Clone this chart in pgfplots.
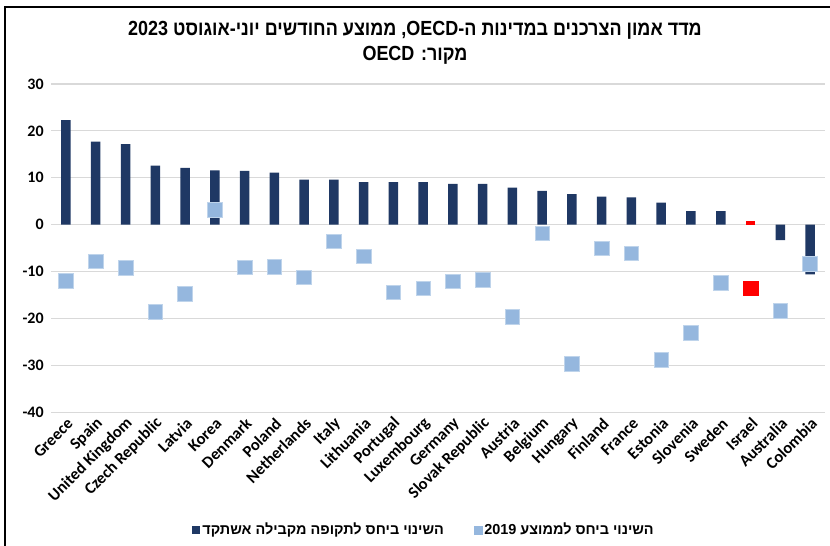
\documentclass[border=0pt]{standalone}
\usepackage{fontspec}
\usepackage{pgfplots}
\usepackage{pgfplotstable}
\pgfplotsset{compat=1.18}
\setmainfont{Carlito}
\TeXXeTstate=1
\newfontfamily\hebtitle{Liberation Sans}[Script=Hebrew,UprightFont={* Bold},FakeStretch=0.88]
\newfontfamily\hebfont{Liberation Sans}[Script=Hebrew,UprightFont={* Bold}]
\definecolor{navy}{HTML}{1F3864}
\definecolor{lblue}{HTML}{95B7DE}
\definecolor{gridc}{HTML}{D9D9D9}

\pgfplotstableread{
x y
0 22.3
1 17.7
2 17.2
3 12.6
4 12.1
5 11.6
6 11.5
7 11.1
8 9.6
9 9.6
10 9.1
11 9.1
12 9.1
13 8.7
14 8.7
15 7.9
16 7.2
17 6.5
18 6.0
19 5.8
20 4.7
21 2.9
22 2.9
24 -3.3
25 -10.6
}\yoy

\pgfplotstableread{
x y
0 -12.0
1 -7.8
2 -9.2
3 -18.6
4 -14.7
5 3.2
6 -9.1
7 -9.0
8 -11.2
9 -3.5
10 -6.7
11 -14.4
12 -13.6
13 -12.1
14 -11.8
15 -19.6
16 -1.8
17 -29.6
18 -5.0
19 -6.1
20 -28.8
21 -23.0
22 -12.4
24 -18.4
25 -8.3
}\vsnineteen

\pgfplotstableread{
x y
23 0.8
}\israelyoy

\pgfplotstableread{
x y
23 -13.5
}\israelnineteen

\begin{document}
\begin{tikzpicture}[x=1bp,y=1bp]
\path[use as bounding box] (0,0) rectangle (830,546);
\draw[line width=2bp] (5,0) -- (5,539) -- (830,539);
\node[font=\hebtitle\fontsize{20.5}{23}\selectfont] at (415,516)
  {\beginR מדד אמון הצרכנים במדינות ה-\beginL OECD\endL, ממוצע החודשים יוני-אוגוסט \beginL 2023\endL\endR};
\node[font=\hebtitle\fontsize{20.5}{23}\selectfont] at (415,491)
  {\beginR מקור: \beginL OECD\endL\endR};
\begin{axis}[
  at={(51.1bp,133.7bp)}, anchor=south west,
  scale only axis, width=773.8bp, height=328.3bp,
  xmin=-0.5, xmax=25.5, ymin=-40, ymax=30,
  ytick={-40,-30,...,30},
  xtick={0,...,25},
  xticklabels={Greece,Spain,United Kingdom,Czech Republic,Latvia,Korea,Denmark,Poland,Netherlands,Italy,Lithuania,Portugal,Luxembourg,Germany,Slovak Republic,Austria,Belgium,Hungary,Finland,France,Estonia,Slovenia,Sweden,Israel,Australia,Colombia},
  axis line style={draw=none},
  major tick length=0pt,
  ymajorgrids, grid style={gridc, line width=1.2bp},
  /pgf/number format/assume math mode=true,
  yticklabel style={font=\bfseries\fontsize{16}{18}\selectfont, anchor=east, xshift=-4bp},
  xticklabel style={font=\bfseries\fontsize{16.5}{18}\selectfont, rotate=45, anchor=east, inner sep=1bp, xshift=-2bp, yshift=-9bp},
  legend style={at={(axis description cs:0.482,-0.358)}, anchor=center, draw=none,
    font=\hebfont\fontsize{14.5}{16}\selectfont, legend columns=2,
    /tikz/every even column/.append style={column sep=28bp}},
  legend cell align=left,
]
\addplot[ybar, bar width=9.5bp, fill=navy, draw=none,
  legend image code/.code={\fill[navy] (0bp,-4bp) rectangle (8bp,4bp);}] table[x=x,y=y] {\yoy};
\addlegendentry{\beginR השינוי ביחס לתקופה מקבילה אשתקד\endR}
\addplot[ybar, bar width=9.5bp, fill=red, draw=none, forget plot] table[x=x,y=y] {\israelyoy};
\addplot[only marks, mark=square*, mark size=7.3bp, mark options={fill=lblue, draw=lblue!60!white, line width=0.6bp},
  legend image code/.code={\fill[lblue] (0bp,-4bp) rectangle (8bp,4bp);}] table[x=x,y=y] {\vsnineteen};
\addlegendentry{\beginR השינוי ביחס לממוצע \beginL 2019\endL\endR}
\addplot[only marks, mark=square*, mark size=7.3bp, mark options={fill=red, draw=red}, forget plot] table[x=x,y=y] {\israelnineteen};
\end{axis}
\end{tikzpicture}
\end{document}
